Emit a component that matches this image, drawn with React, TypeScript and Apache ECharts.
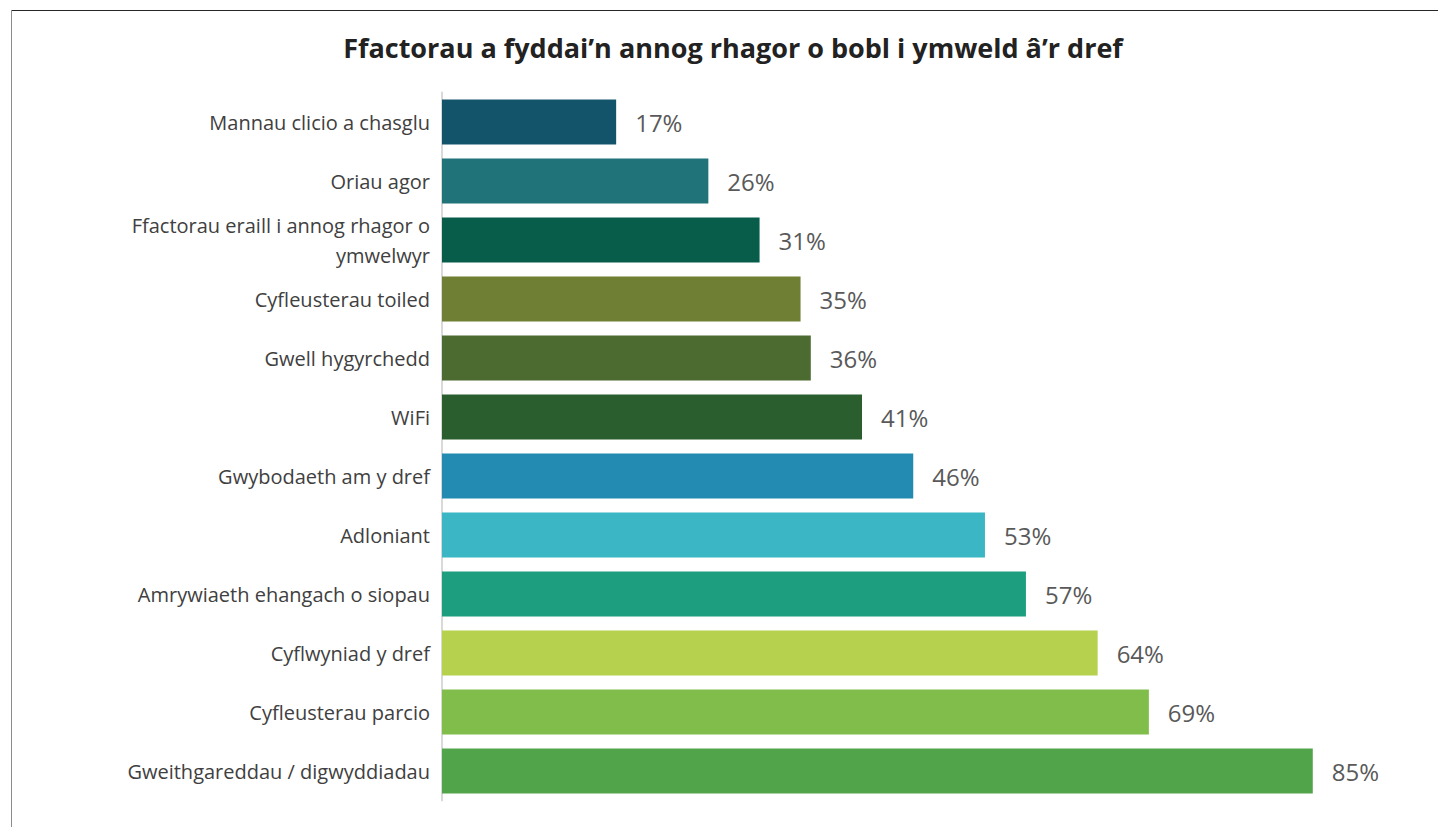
import React, { useEffect, useRef } from "react";
import * as echarts from "echarts";

const titleText = "Ffactorau a fyddai’n annog rhagor o bobl i ymweld â’r dref";
const categories = [
  "Mannau clicio a chasglu",
  "Oriau agor",
  "Ffactorau eraill i annog rhagor o\nymwelwyr",
  "Cyfleusterau toiled",
  "Gwell hygyrchedd",
  "WiFi",
  "Gwybodaeth am y dref",
  "Adloniant",
  "Amrywiaeth ehangach o siopau",
  "Cyflwyniad y dref",
  "Cyfleusterau parcio",
  "Gweithgareddau / digwyddiadau",
];
const values = [17, 26, 31, 35, 36, 41, 46, 53, 57, 64, 69, 85];
const barColors = [
  "#14546b",
  "#21737a",
  "#075c4a",
  "#6f7f33",
  "#4c6b30",
  "#2b5e2e",
  "#238bb2",
  "#3bb6c4",
  "#1d9e7e",
  "#b5d14d",
  "#80bd4a",
  "#52a44b",
];

export default function App() {
  const ref = useRef<HTMLDivElement>(null);
  useEffect(() => {
    if (!ref.current) return;
    const chart = echarts.init(ref.current, undefined, { renderer: "svg" });
    chart.setOption({
      animation: false,
      backgroundColor: "#ffffff",
      title: {
        text: titleText,
        left: 728,
        textAlign: "center",
        top: 29,
        textStyle: {
          fontFamily: "Open Sans",
          fontWeight: "bold",
          fontSize: 27,
          color: "#222222",
        },
      },
      graphic: [
        {
          type: "line",
          shape: { x1: 11, y1: 10.5, x2: 1438, y2: 10.5 },
          style: { stroke: "#262626", lineWidth: 1 },
        },
        {
          type: "line",
          shape: { x1: 11.5, y1: 10, x2: 11.5, y2: 827 },
          style: { stroke: "#8c8c8c", lineWidth: 1 },
        },
      ],
      grid: { left: 442, top: 92.5, width: 922, height: 708 },
      xAxis: {
        type: "value",
        min: 0,
        max: 90,
        show: false,
      },
      yAxis: {
        type: "category",
        inverse: true,
        data: categories,
        axisTick: { show: false },
        axisLine: { show: true, lineStyle: { color: "#d9d9d9", width: 2 } },
        axisLabel: {
          margin: 12,
          fontFamily: "Open Sans",
          fontSize: 20,
          color: "#404040",
          lineHeight: 30,
        },
      },
      series: [
        {
          type: "bar",
          barWidth: 45,
          data: values.map((v, i) => ({ value: v, itemStyle: { color: barColors[i] } })),
          label: {
            show: true,
            position: "right",
            distance: 19,
            formatter: "{c}%",
            fontFamily: "Open Sans",
            fontSize: 24,
            color: "#595959",
          },
        },
      ],
    });
    return () => chart.dispose();
  }, []);
  return (
    <div
      ref={ref}
      style={{ position: "fixed", left: 0, top: 0, width: 1438, height: 827 }}
    />
  );
}
